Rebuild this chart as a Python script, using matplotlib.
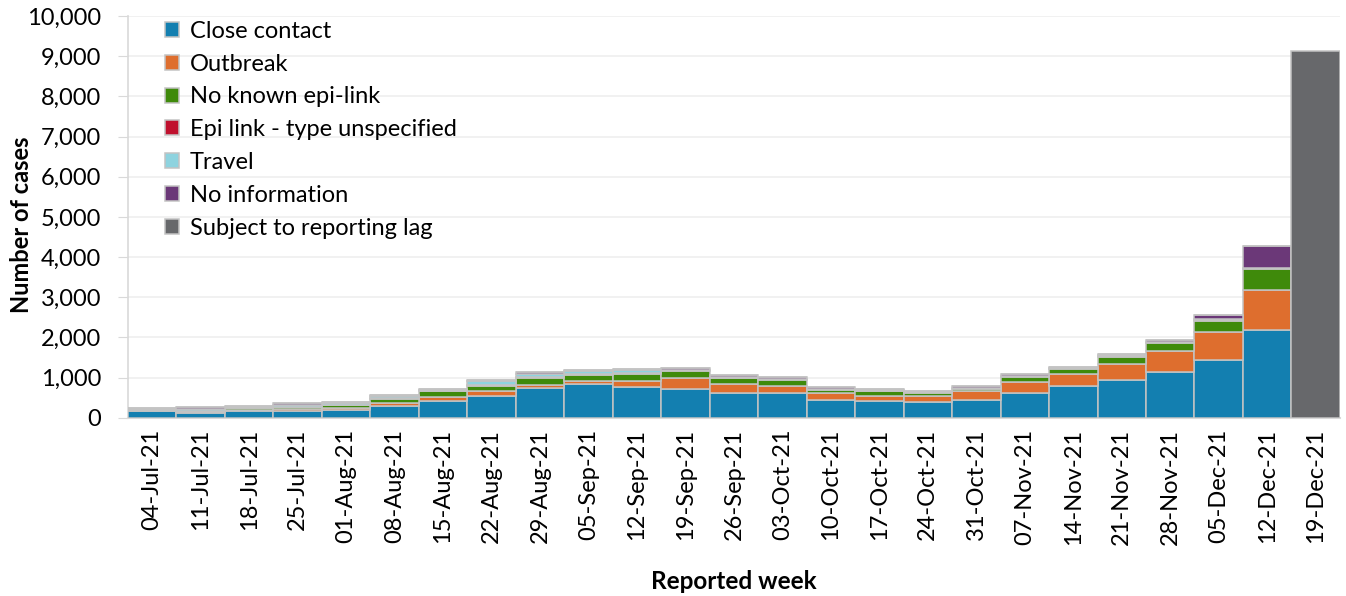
import matplotlib
matplotlib.use("Agg")
import matplotlib.pyplot as plt
from matplotlib.ticker import FuncFormatter, MultipleLocator
import numpy as np

weeks = ["04-Jul-21", "11-Jul-21", "18-Jul-21", "25-Jul-21", "01-Aug-21", "08-Aug-21",
         "15-Aug-21", "22-Aug-21", "29-Aug-21", "05-Sep-21", "12-Sep-21", "19-Sep-21",
         "26-Sep-21", "03-Oct-21", "10-Oct-21", "17-Oct-21", "24-Oct-21", "31-Oct-21",
         "07-Nov-21", "14-Nov-21", "21-Nov-21", "28-Nov-21", "05-Dec-21", "12-Dec-21",
         "19-Dec-21"]

close_contact = [160, 120, 165, 165, 190, 285, 420, 550, 740, 845, 755, 715, 610, 610,
                 450, 420, 385, 450, 620, 785, 935, 1135, 1445, 2175, 0]
outbreak = [15, 15, 20, 50, 60, 80, 100, 105, 85, 70, 150, 270, 225, 185,
            160, 115, 150, 215, 270, 310, 410, 540, 700, 1010, 0]
no_known_link = [15, 15, 50, 50, 60, 110, 140, 140, 170, 150, 190, 180, 150, 150,
                 80, 120, 85, 55, 130, 120, 180, 185, 275, 520, 0]
epi_unspecified = [15, 15, 15, 15, 15, 15, 15, 15, 15, 15, 15, 15, 15, 15,
                   15, 15, 15, 15, 15, 15, 15, 15, 15, 15, 0]
travel = [25, 45, 20, 40, 35, 55, 25, 110, 90, 80, 75, 20, 15, 15,
          15, 15, 15, 15, 15, 15, 15, 15, 15, 15, 0]
no_information = [25, 50, 25, 40, 30, 20, 20, 30, 40, 30, 25, 50, 40, 40,
                  40, 40, 20, 30, 40, 30, 40, 50, 110, 540, 0]
reporting_lag = [0] * 24 + [9130]

series = [
    ("Close contact", close_contact, "#137fb0"),
    ("Outbreak", outbreak, "#de6e2e"),
    ("No known epi-link", no_known_link, "#3f8a0b"),
    ("Epi link - type unspecified", epi_unspecified, "#c0112e"),
    ("Travel", travel, "#8ed3df"),
    ("No information", no_information, "#6b3878"),
    ("Subject to reporting lag", reporting_lag, "#67686b"),
]

plt.rcParams['font.family'] = ['Lato', 'DejaVu Sans']
FS = 17

fig = plt.figure(figsize=(13.46, 5.96), dpi=100)
ax = fig.add_axes([0.095, 0.299, 0.9005, 0.674])

x = np.arange(len(weeks))
bottom = np.zeros(len(weeks))
for name, vals, col in series:
    v = np.array(vals, dtype=float)
    ax.bar(x, v, width=1.0, bottom=bottom, color=col, edgecolor="#c3c3c3",
           linewidth=1.1, label=name, zorder=3)
    bottom += v

ax.set_xlim(-0.5, len(weeks) - 0.5)
ax.set_ylim(0, 10000)
ax.yaxis.set_major_locator(MultipleLocator(1000))
ax.yaxis.set_major_formatter(FuncFormatter(lambda v, p: f"{int(v):,}"))
ax.grid(axis="y", color="#efefef", linewidth=1.2, zorder=0)
ax.set_axisbelow(True)

ax.set_xticks(x)
ax.set_xticklabels(weeks, rotation=90, fontsize=FS)
ax.tick_params(axis="x", length=0, pad=8)
ax.tick_params(axis="y", length=7, color="#d9d9d9", labelsize=FS, pad=12)

for s in ["top", "right"]:
    ax.spines[s].set_visible(False)
ax.spines["left"].set_color("#d9d9d9")
ax.spines["bottom"].set_color("#d9d9d9")
ax.spines["left"].set_linewidth(1.2)
ax.spines["bottom"].set_linewidth(1.5)

ax.set_ylabel("Number of cases", fontsize=17, fontweight="bold")
ax.yaxis.set_label_coords(-0.078, 0.48)
ax.set_xlabel("Reported week", fontsize=17.5, fontweight="bold", labelpad=18)

ax.legend(loc="upper left", bbox_to_anchor=(0.023, 1.012), frameon=False,
          fontsize=FS, handlelength=0.6, handleheight=0.6,
          handletextpad=0.45, labelspacing=0.5, borderaxespad=0)

fig.savefig("out.png", dpi=100)
